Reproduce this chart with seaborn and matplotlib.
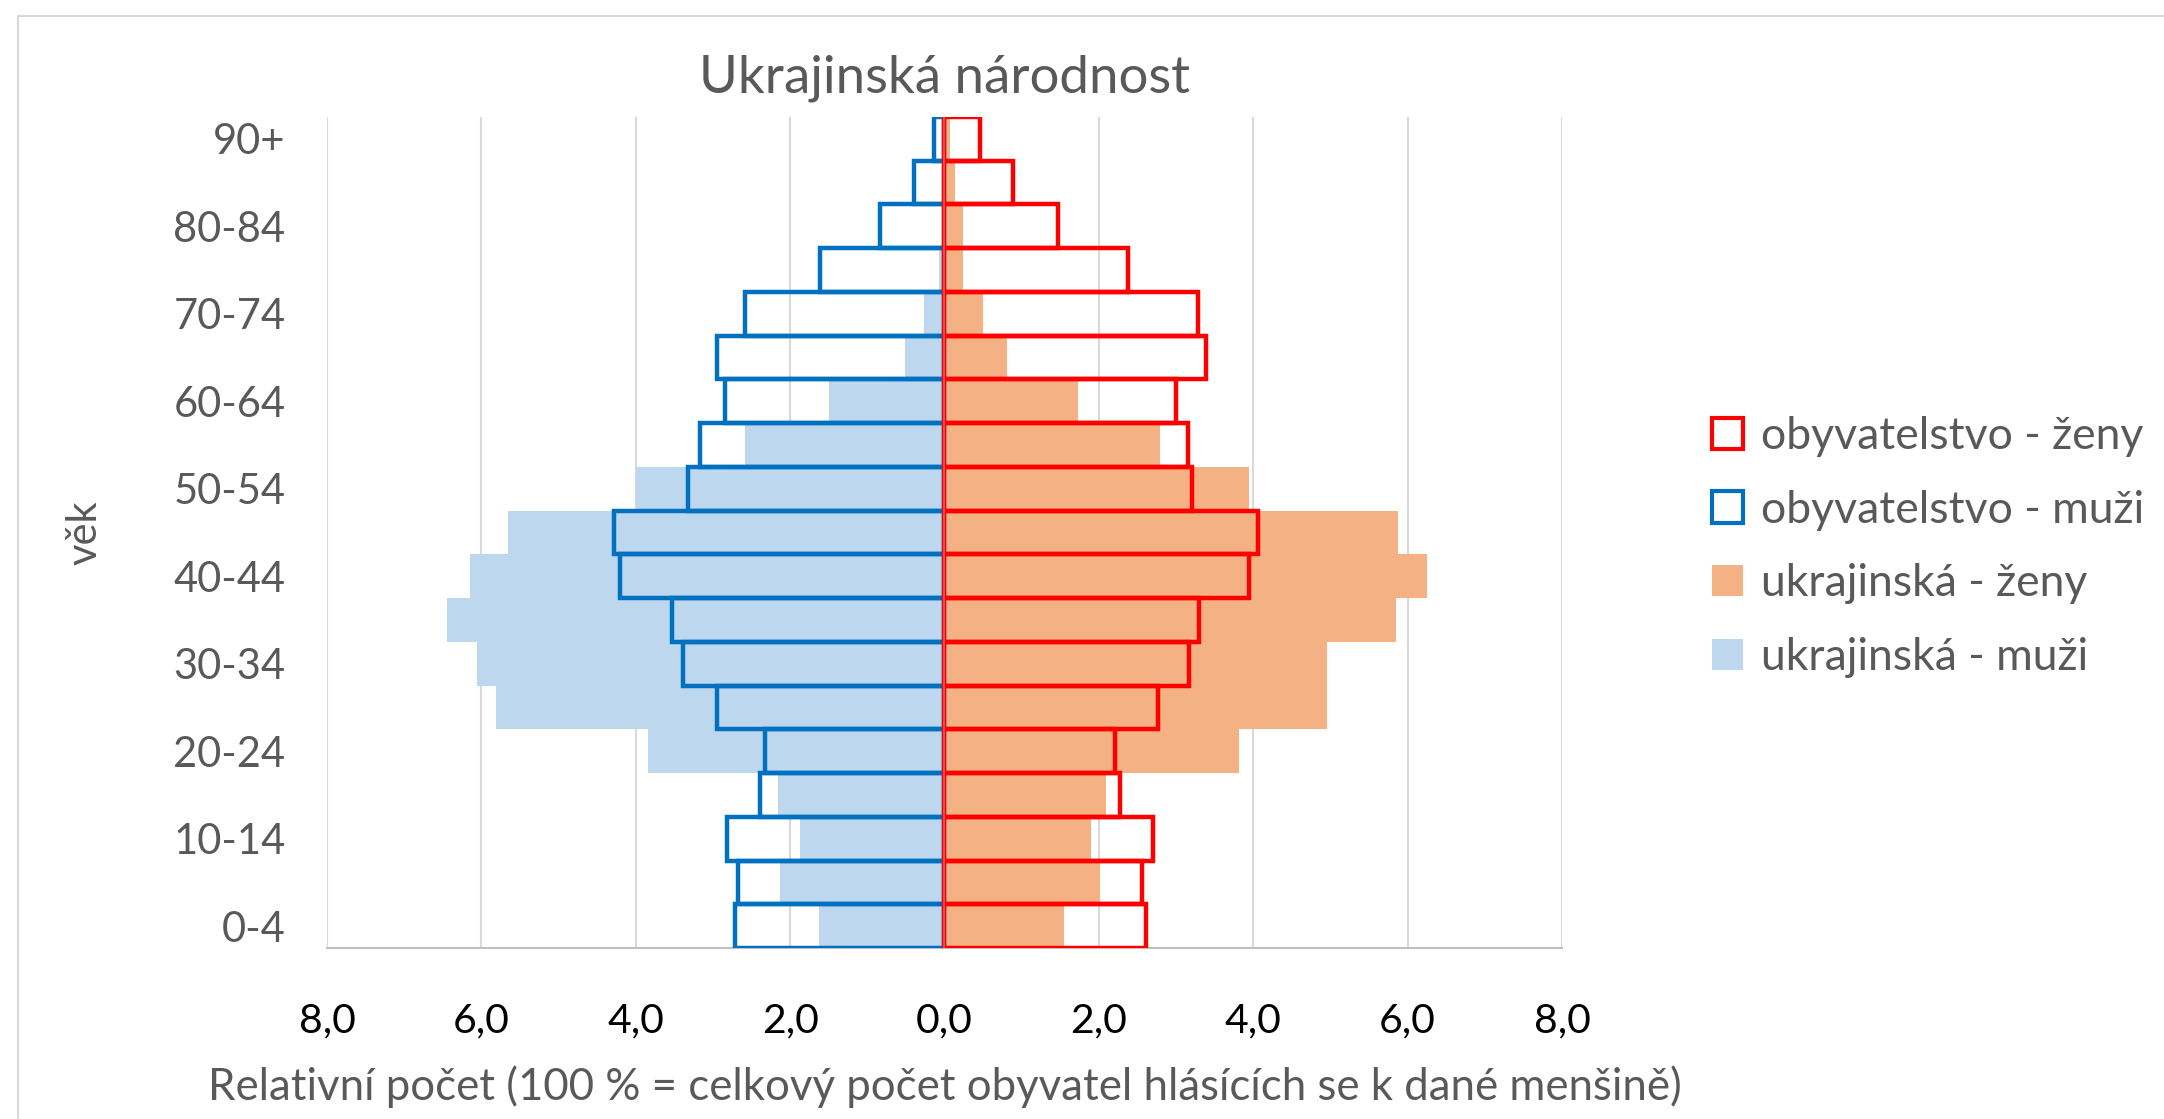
import numpy as np
import pandas as pd
import matplotlib
matplotlib.use("Agg")
import matplotlib.pyplot as plt
from matplotlib.patches import Patch
from matplotlib.ticker import FuncFormatter, MultipleLocator
from matplotlib.lines import Line2D
import seaborn as sns

# ---- data ----
age_groups = ["0-4", "5-9", "10-14", "15-19", "20-24", "25-29", "30-34", "35-39",
              "40-44", "45-49", "50-54", "55-59", "60-64", "65-69", "70-74",
              "75-79", "80-84", "85-89", "90+"]
# total population (obyvatelstvo), % share
pop_men   = [2.72, 2.68, 2.82, 2.39, 2.33, 2.95, 3.39, 3.53, 4.21, 4.28,
             3.32, 3.17, 2.85, 2.95, 2.58, 1.61, 0.84, 0.40, 0.14]
pop_women = [2.61, 2.56, 2.70, 2.27, 2.21, 2.77, 3.17, 3.30, 3.94, 4.06,
             3.21, 3.16, 3.00, 3.39, 3.29, 2.38, 1.47, 0.89, 0.46]
# Ukrainian nationality (ukrajinská), % share
ukr_men   = [1.62, 2.13, 1.87, 2.16, 3.84, 5.81, 6.06, 6.44, 6.15, 5.66,
             4.00, 2.59, 1.50, 0.51, 0.26, 0.07, 0.03, 0.01, 0.00]
ukr_women = [1.55, 2.01, 1.90, 2.09, 3.81, 4.96, 4.95, 5.85, 6.25, 5.87,
             3.95, 2.79, 1.73, 0.81, 0.50, 0.24, 0.24, 0.13, 0.07]

series_labels = ["obyvatelstvo - ženy", "obyvatelstvo - muži",
                 "ukrajinská - ženy", "ukrajinská - muži"]

df = pd.DataFrame({
    "age": age_groups,
    "pop_men": -np.array(pop_men),
    "pop_women": np.array(pop_women),
    "ukr_men": -np.array(ukr_men),
    "ukr_women": np.array(ukr_women),
})

C_RED = "#FF0000"
C_BLUE = "#0070C0"
C_ORANGE = "#F4B183"
C_LBLUE = "#BDD7EE"
C_TEXT = "#595959"

sns.set_theme(style="white")
plt.rcParams["font.family"] = ["Lato", "DejaVu Sans"]

W, H = 2164, 1119
fig = plt.figure(figsize=(W / 100, H / 100), dpi=100)
ax_l, ax_r, ax_t, ax_b = 327, 1562, 117, 948
ax = fig.add_axes([ax_l / W, 1 - ax_b / H, (ax_r - ax_l) / W, (ax_b - ax_t) / H])

order = age_groups[::-1]

# filled bars (ukrajinská)
sns.barplot(data=df, x="ukr_men", y="age", order=order, orient="h", width=1.0,
            color=C_LBLUE, saturation=1, linewidth=0, ax=ax, zorder=2)
sns.barplot(data=df, x="ukr_women", y="age", order=order, orient="h", width=1.0,
            color=C_ORANGE, saturation=1, linewidth=0, ax=ax, zorder=2)
# outlined bars (obyvatelstvo)
sns.barplot(data=df, x="pop_men", y="age", order=order, orient="h", width=1.0,
            color=C_BLUE, saturation=1, fill=False, linewidth=3.2, ax=ax, zorder=3)
sns.barplot(data=df, x="pop_women", y="age", order=order, orient="h", width=1.0,
            color=C_RED, saturation=1, fill=False, linewidth=3.2, ax=ax, zorder=4)

ax.set_xlim(-8, 8)
ax.set_ylim(len(order) - 0.5, -0.5)
ax.xaxis.set_major_locator(MultipleLocator(2))
ax.xaxis.set_major_formatter(FuncFormatter(lambda v, p: f"{abs(v):.1f}".replace(".", ",")))
ax.grid(axis="x", color="#D9D9D9", linewidth=1.5, zorder=0)
ax.grid(axis="y", visible=False)
ax.set_axisbelow(True)

# y tick labels: every second age group
ylabels = [lab if (age_groups.index(lab) % 2 == 0) else "" for lab in order]
ax.set_yticks(range(len(order)))
ax.set_yticklabels(ylabels)

for s in ["top", "right", "left"]:
    ax.spines[s].set_visible(False)
ax.spines["bottom"].set_color("#BFBFBF")
ax.spines["bottom"].set_linewidth(1.5)
ax.axvline(0, color="#E06060", linewidth=1.2, zorder=5)

ax.tick_params(axis="x", labelsize=29.5, labelcolor="black", length=0, pad=39)
ax.tick_params(axis="y", labelsize=30, labelcolor=C_TEXT, length=0, pad=30)
ax.set_xlabel("Relativní počet (100 % = celkový počet obyvatel hlásících se k dané menšině)",
              fontsize=31.5, color=C_TEXT, labelpad=19)
ax.set_ylabel("věk", fontsize=30, color=C_TEXT, labelpad=50)
ax.set_title("Ukrajinská národnost", fontsize=38, color=C_TEXT, pad=18)

handles = [
    Patch(facecolor="none", edgecolor=C_RED, linewidth=3, label=series_labels[0]),
    Patch(facecolor="none", edgecolor=C_BLUE, linewidth=3, label=series_labels[1]),
    Patch(facecolor=C_ORANGE, edgecolor="none", label=series_labels[2]),
    Patch(facecolor=C_LBLUE, edgecolor="none", label=series_labels[3]),
]
leg = fig.legend(handles=handles, loc="center left", bbox_to_anchor=(1672 / W, 1 - 547 / H),
                 frameon=False, fontsize=32, labelcolor=C_TEXT, handlelength=0.7,
                 handleheight=0.7, handletextpad=0.4, labelspacing=0.74)

# chart area border (top and left visible)
fig.add_artist(Line2D([18 / W, 1], [1 - 16 / H, 1 - 16 / H], color="#D9D9D9", linewidth=1.5))
fig.add_artist(Line2D([18 / W, 18 / W], [0, 1 - 16 / H], color="#D9D9D9", linewidth=1.5))

fig.savefig("out.png", dpi=100, facecolor="white")
